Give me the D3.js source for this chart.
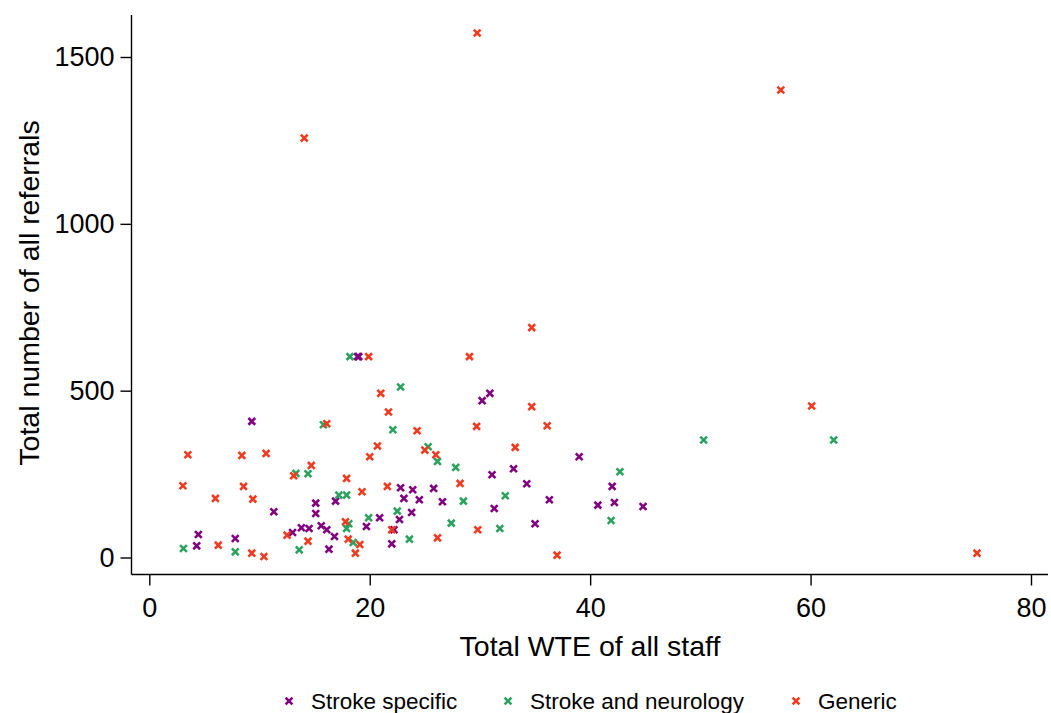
<!DOCTYPE html>
<html><head><meta charset="utf-8">
<script src="https://cdn.jsdelivr.net/npm/d3@7"></script>
<style>body{margin:0;background:#fff}svg{display:block;font-family:"Liberation Sans",Arial,sans-serif}</style>
</head><body>
<script>
const seriesNames = ["Stroke specific", "Stroke and neurology", "Generic"];
const seriesColors = ["#800080", "#2ca25f", "#f03b20"];
const xTicks = [0, 20, 40, 60, 80];
const yTicks = [0, 500, 1000, 1500];

const strokeSpecificX = [9.3,19.0,18.9,30.9,30.2,22.8,15.1,15.1,16.9,11.3,22.7,20.9,19.7,22.2,15.6,16.1,14.5,13.8,13.0,16.8,16.3,22.0,4.45,4.3,7.8,39.0,31.1,33.05,34.25,42.0,23.9,25.8,23.1,24.5,26.6,36.3,40.7,42.2,44.8,31.3,23.8,35.0];
const strokeSpecificY = [408,602,602,492,470,209,163,132,169,137,114,119,93,83,95,83,87,89,75,63,25,41,69,35,57,302,248,266,221,213,203,207,177,173,167,173,157,165,153,147,135,101];

const strokeNeuroX = [15.8,22.1,13.3,14.4,17.2,17.9,22.5,19.9,18.1,17.9,13.6,18.5,3.1,7.8,25.3,26.15,27.8,42.7,28.5,32.3,27.4,41.9,31.8,23.6,18.2,22.8,50.3,62.1];
const strokeNeuroY = [398,383,252,251,187,187,139,119,101,87,23,45,27,17,332,288,270,257,169,185,103,111,87,55,602,511,352,352];

const genericX = [16.1,3.5,8.4,10.6,20.7,20.0,14.7,13.1,3.05,8.55,6.0,9.4,17.9,19.3,21.6,17.8,22.0,12.5,14.4,18.05,19.1,18.7,6.26,9.3,10.4,24.3,29.7,36.1,33.2,25.0,26.0,28.2,29.8,26.15,37.0,19.9,21.0,21.7,34.7,29.05,34.7,60.1,75.1,29.75,14.06,57.3];
const genericY = [401,308,306,312,334,302,276,245,215,213,177,175,237,197,213,107,83,67,49,55,39,13,37,13,3,380,393,395,330,322,308,222,83,59,7,602,492,436,689,602,452,454,13,1572,1257,1401];

const W = 1051, H = 713;
const svg = d3.select("body").append("svg").attr("width", W).attr("height", H);

const x = d3.scaleLinear().domain([0, 80]).range([149.3, 1031]);
const y = d3.scaleLinear().domain([0, 1500]).range([557.5, 57]);
const axisX0 = 131.5, axisY0 = 574.5;

// axes
const gx = svg.append("g").attr("transform", `translate(0,${axisY0})`)
  .call(d3.axisBottom(x).tickValues(xTicks).tickFormat(d3.format("d")).tickSize(11).tickPadding(12).tickSizeOuter(0));
gx.select(".domain").attr("d", `M${axisX0},0H1048`);
const gy = svg.append("g").attr("transform", `translate(${axisX0},0)`)
  .call(d3.axisLeft(y).tickValues(yTicks).tickFormat(d3.format("d")).tickSize(11).tickPadding(6).tickSizeOuter(0));
gy.select(".domain").attr("d", `M0,15V${axisY0}`);
svg.selectAll(".tick text").attr("font-size", 27).attr("fill", "#000").attr("font-family", "Liberation Sans, Arial, sans-serif");
svg.selectAll(".domain, .tick line").attr("stroke", "#000").attr("stroke-width", 1.4);

svg.append("text").attr("x", 590).attr("y", 656).attr("text-anchor", "middle")
  .attr("font-size", 28.5).text("Total WTE of all staff");
svg.append("text").attr("transform", "translate(39,293) rotate(-90)").attr("text-anchor", "middle")
  .attr("font-size", 28.5).text("Total number of all referrals");

const series = [
  {xs: strokeSpecificX, ys: strokeSpecificY},
  {xs: strokeNeuroX, ys: strokeNeuroY},
  {xs: genericX, ys: genericY}
];
const cross = "M-3.4,-3.4L3.4,3.4M-3.4,3.4L3.4,-3.4";
series.forEach((s, i) => {
  svg.append("g").selectAll("path").data(s.xs.map((v, j) => [v, s.ys[j]])).join("path")
    .attr("d", cross).attr("transform", d => `translate(${x(d[0])},${y(d[1])})`)
    .attr("stroke", seriesColors[i]).attr("stroke-width", 2.6).attr("fill", "none");
});

// legend
const legX = [289, 508, 796];
seriesNames.forEach((n, i) => {
  svg.append("path").attr("d", cross).attr("transform", `translate(${legX[i]},701)`)
    .attr("stroke", seriesColors[i]).attr("stroke-width", 2.6);
  svg.append("text").attr("x", legX[i] + 22).attr("y", 709).attr("font-size", 22.5).text(n);
});
</script>
</body></html>
